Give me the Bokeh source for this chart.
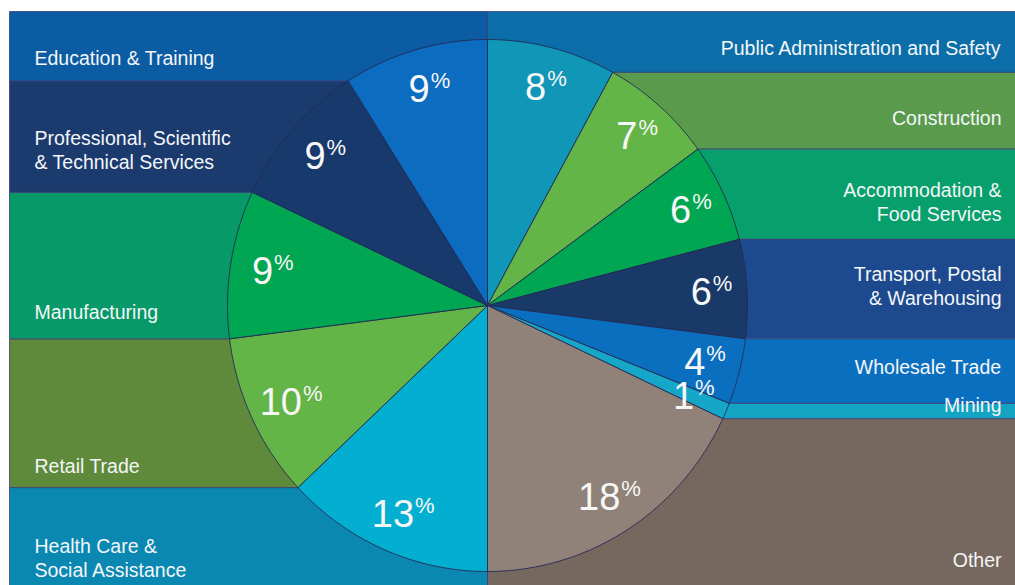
import math
from bokeh.plotting import figure
from bokeh.models import Range1d
from bokeh.embed import file_html
from bokeh.resources import INLINE
from bokeh.core.properties import value

# ---------------- data ----------------
categories = ["Public Administration and Safety", "Construction",
              "Accommodation & Food Services", "Transport, Postal & Warehousing",
              "Wholesale Trade", "Mining", "Other",
              "Health Care & Social Assistance", "Retail Trade", "Manufacturing",
              "Professional, Scientific & Technical Services", "Education & Training"]
shares = [8, 7, 6, 6, 4, 1, 18, 13, 10, 9, 9, 9]
label_lines = [["Public Administration and Safety"], ["Construction"],
               ["Accommodation &", "Food Services"], ["Transport, Postal", "& Warehousing"],
               ["Wholesale Trade"], ["Mining"], ["Other"],
               ["Health Care &", "Social Assistance"], ["Retail Trade"], ["Manufacturing"],
               ["Professional, Scientific", "& Technical Services"], ["Education & Training"]]

# ---------------- styles ----------------
wedge_colors = ["#1096b6", "#63b548", "#00a651", "#193a68", "#0b6fc0", "#16a6c8",
                "#918279", "#03afd0", "#63b548", "#00a651", "#17396b", "#0b6cc0"]
band_colors = ["#0b6ea8", "#5a9a4c", "#07a06c", "#1d4a8e", "#0b6fc0", "#13a4c4",
               "#76685f", "#0a88b2", "#5f8a3c", "#079a68", "#1b3b6e", "#0b5ca2"]
FONT = "Liberation Sans"

# ---------------- layout ----------------
W, H = 1015, 585
LEFT, TOP, RIGHT, BOTTOM = 9, 11, 1015, 585
CX, CY, RX, RY = 487, 305, 260, 266
LABEL_F = 0.85
label_y = [47, 117, 189, 273, 366, 404, 559, 545, 465, 311, 137, 57]
LINE_H = 24
RIGHT_LABEL_X, LEFT_LABEL_X = 1001, 34

p = figure(width=W, height=H, output_backend="svg", toolbar_location=None,
           x_range=Range1d(0, W), y_range=Range1d(H, 0),
           x_axis_location=None, y_axis_location=None, min_border=0,
           background_fill_color="white", border_fill_color="white")
p.grid.visible = False
p.outline_line_color = None

total = sum(shares)
cum = [0]
for s in shares:
    cum.append(cum[-1] + s)
angles = [c / total * 360.0 for c in cum]


def pt(a):
    t = math.radians(a)
    return CX + RX * math.sin(t), CY - RY * math.cos(t)


def edge_pt(a):
    if abs(a) < 1e-9 or abs(a - 360) < 1e-9:
        return CX, TOP
    if abs(a - 180) < 1e-9:
        return CX, BOTTOM
    return pt(a)


band_xs, band_ys, w_xs, w_ys = [], [], [], []
for i in range(len(shares)):
    a0, a1 = angles[i], angles[i + 1]
    ex = RIGHT if a1 <= 180 + 1e-9 else LEFT
    p0 = edge_pt(a0)
    p1 = edge_pt(a1)
    band_xs.append([CX, p0[0], ex, ex, p1[0]])
    band_ys.append([CY, p0[1], p0[1], p1[1], p1[1]])
    n = max(4, int((a1 - a0) * 1.5))
    xs, ys = [CX], [CY]
    for k in range(n + 1):
        x, y = pt(a0 + (a1 - a0) * k / n)
        xs.append(x)
        ys.append(y)
    w_xs.append(xs)
    w_ys.append(ys)

p.patches(band_xs, band_ys, fill_color=band_colors, line_color="#3b3f78",
          line_width=1, line_alpha=0.8)
p.patches(w_xs, w_ys, fill_color=wedge_colors, line_color="#252a55",
          line_width=1, line_alpha=0.9)

# category labels
for i, lines in enumerate(label_lines):
    right = angles[i + 1] <= 180 + 1e-9
    x = RIGHT_LABEL_X if right else LEFT_LABEL_X
    for j, line in enumerate(lines):
        p.text(x=[x], y=[label_y[i] + j * LINE_H], text=[line],
               text_font=value(FONT), text_font_size="19.5px", text_color="#f4f6f8",
               text_align="right" if right else "left", text_baseline="middle")

# percentage labels
NUM_SIZE, PCT_SIZE = 38, 22
for i, s in enumerate(shares):
    mid = (angles[i] + angles[i + 1]) / 2
    t = math.radians(mid)
    lx = CX + RX * LABEL_F * math.sin(t)
    ly = CY - RY * LABEL_F * math.cos(t)
    num = str(s)
    nw = len(num) * 0.556 * NUM_SIZE
    pw = 0.889 * PCT_SIZE
    left = lx - (nw + pw) / 2 + 3
    p.text(x=[left], y=[ly], text=[num],
           text_font=value(FONT), text_font_size=f"{NUM_SIZE}px", text_color="#f7f7f7",
           text_align="left", text_baseline="middle")
    p.text(x=[left + nw + 1], y=[ly - 8], text=["%"],
           text_font=value(FONT), text_font_size=f"{PCT_SIZE}px", text_color="#f7f7f7",
           text_align="left", text_baseline="middle")

open("out.html", "w").write(file_html(p, INLINE))
